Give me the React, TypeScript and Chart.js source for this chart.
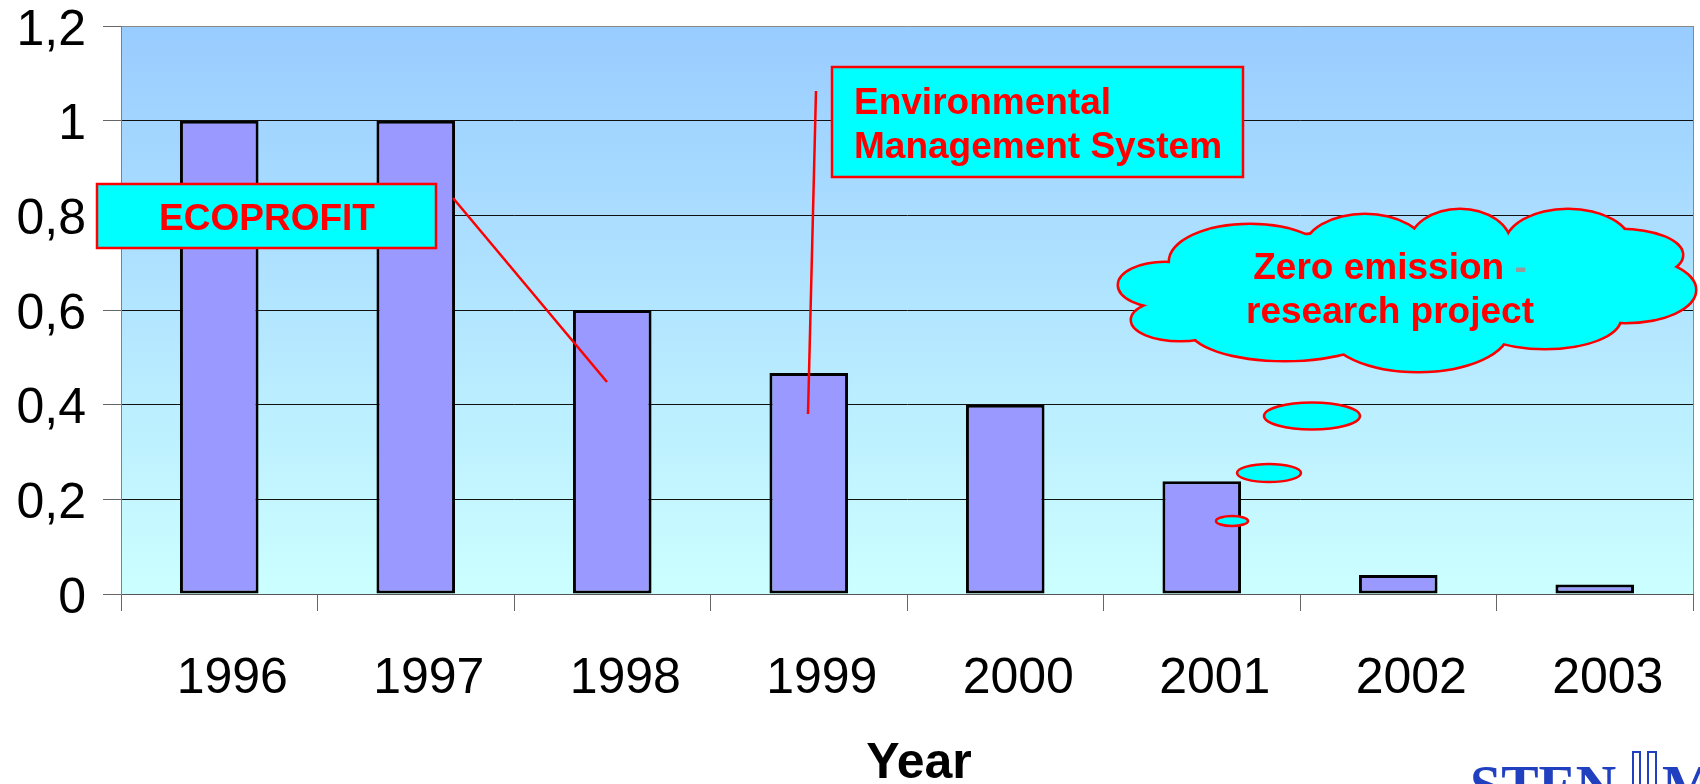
import React, { useEffect, useRef } from 'react';
import { Chart, registerables } from 'chart.js';

Chart.register(...registerables);

// ---- data ----
const years: string[] = ['1996', '1997', '1998', '1999', '2000', '2001', '2002', '2003'];
const values: number[] = [1, 1, 0.6, 0.467, 0.4, 0.238, 0.04, 0.02];
const yTickLabels: string[] = ['0', '0,2', '0,4', '0,6', '0,8', '1', '1,2'];
const xAxisTitle = 'Year';
const ecoLabel = 'ECOPROFIT';
const emsLines: string[] = ['Environmental', 'Management System'];
const cloudLine1 = 'Zero emission';
const cloudDash = ' -';
const cloudLine2 = 'research project';
const logoText = 'STEN';

const FONT = '"Liberation Sans", Arial, Helvetica, sans-serif';
const RED = '#FF0000';
const CYAN = '#00FFFF';

type Ell = [number, number, number, number];
const cloudLobes: Ell[] = [
  [1165, 285, 46, 22],
  [1180, 320, 48, 20],
  [1285, 328, 95, 32],
  [1250, 262, 80, 37],
  [1365, 250, 60, 35],
  [1460, 245, 50, 35],
  [1568, 245, 62, 35],
  [1620, 255, 62, 25],
  [1625, 290, 70, 32],
  [1545, 318, 75, 30],
  [1418, 330, 90, 41],
  [1400, 285, 220, 55],
];
const bubbles: Ell[] = [
  [1312, 416, 48, 13.5],
  [1269, 473, 32, 9],
  [1232, 521, 16, 5],
];

const bgPlugin = {
  id: 'bgGradient',
  beforeDraw(chart: any) {
    const { ctx, chartArea } = chart;
    if (!chartArea) return;
    const g = ctx.createLinearGradient(0, chartArea.top, 0, chartArea.bottom);
    g.addColorStop(0, '#99CCFF');
    g.addColorStop(1, '#CCFFFF');
    ctx.save();
    ctx.fillStyle = g;
    ctx.fillRect(chartArea.left, chartArea.top, chartArea.right - chartArea.left, chartArea.bottom - chartArea.top);
    ctx.restore();
  },
};

function ellipsePath(ctx: CanvasRenderingContext2D, e: Ell) {
  ctx.beginPath();
  ctx.ellipse(e[0], e[1], e[2], e[3], 0, 0, Math.PI * 2);
}

const annotPlugin = {
  id: 'annotations',
  afterDraw(chart: any) {
    const ctx: CanvasRenderingContext2D = chart.ctx;
    const { chartArea } = chart;
    ctx.save();

    // right border of plot
    ctx.strokeStyle = '#888';
    ctx.lineWidth = 1;
    ctx.beginPath();
    ctx.moveTo(chartArea.right + 0.5, chartArea.top);
    ctx.lineTo(chartArea.right + 0.5, chartArea.bottom);
    ctx.stroke();

    // ECOPROFIT box
    ctx.fillStyle = CYAN;
    ctx.fillRect(97, 184, 339, 64);
    ctx.strokeStyle = RED;
    ctx.lineWidth = 2.5;
    ctx.strokeRect(97, 184, 339, 64);
    ctx.fillStyle = RED;
    ctx.font = `bold 37px ${FONT}`;
    ctx.textAlign = 'center';
    ctx.textBaseline = 'alphabetic';
    ctx.fillText(ecoLabel, 267, 230);

    // ECOPROFIT pointer
    ctx.strokeStyle = RED;
    ctx.lineWidth = 2.5;
    ctx.beginPath();
    ctx.moveTo(453, 198);
    ctx.lineTo(607, 382);
    ctx.stroke();

    // EMS box
    ctx.fillStyle = CYAN;
    ctx.fillRect(832, 67, 411, 110);
    ctx.strokeRect(832, 67, 411, 110);
    ctx.fillStyle = RED;
    ctx.font = `bold 37px ${FONT}`;
    ctx.textAlign = 'left';
    ctx.fillText(emsLines[0], 854, 114);
    ctx.fillText(emsLines[1], 854, 158);

    // EMS pointer
    ctx.beginPath();
    ctx.moveTo(816, 91);
    ctx.lineTo(808, 414);
    ctx.stroke();

    // cloud
    ctx.strokeStyle = RED;
    ctx.lineWidth = 5;
    cloudLobes.forEach((e) => { ellipsePath(ctx, e); ctx.stroke(); });
    ctx.fillStyle = CYAN;
    cloudLobes.forEach((e) => { ellipsePath(ctx, e); ctx.fill(); });

    // bubbles
    ctx.lineWidth = 2.5;
    bubbles.forEach((e) => {
      ellipsePath(ctx, e);
      ctx.fillStyle = CYAN;
      ctx.fill();
      ctx.stroke();
    });

    // cloud text
    ctx.font = `bold 37px ${FONT}`;
    ctx.textAlign = 'left';
    const w1 = ctx.measureText(cloudLine1).width;
    const wd = ctx.measureText(cloudDash).width;
    const cx = 1390;
    const x1 = cx - (w1 + wd) / 2;
    ctx.fillStyle = RED;
    ctx.fillText(cloudLine1, x1, 279);
    ctx.fillStyle = '#999999';
    ctx.fillText(cloudDash, x1 + w1, 279);
    ctx.fillStyle = RED;
    ctx.textAlign = 'center';
    ctx.fillText(cloudLine2, cx, 323);

    // axis title
    ctx.fillStyle = '#000';
    ctx.font = `bold 50px ${FONT}`;
    ctx.textAlign = 'center';
    ctx.fillText(xAxisTitle, 919, 778);

    // logo (partly cut off)
    ctx.fillStyle = '#2040C0';
    ctx.strokeStyle = '#2040C0';
    ctx.font = 'bold 56px "Liberation Serif", "Times New Roman", serif';
    ctx.textAlign = 'left';
    ctx.fillText(logoText, 1470, 805);
    ctx.lineWidth = 2;
    ctx.strokeRect(1633, 752, 7, 40);
    ctx.strokeRect(1648, 752, 8, 40);
    ctx.fillText('M', 1662, 805);

    ctx.restore();
  },
};

export default function App() {
  const ref = useRef<HTMLCanvasElement | null>(null);

  useEffect(() => {
    if (!ref.current) return;
    const chart = new Chart(ref.current, {
      type: 'bar',
      data: {
        labels: years,
        datasets: [
          {
            data: values,
            backgroundColor: '#9999FF',
            borderColor: '#000000',
            borderWidth: 3,
            borderSkipped: false,
            barPercentage: 0.4,
            categoryPercentage: 1,
          },
        ],
      },
      options: {
        animation: false,
        responsive: false,
        devicePixelRatio: 1,
        layout: { padding: { top: 26, right: 7, left: 0, bottom: 0 } },
        plugins: {
          legend: { display: false },
          tooltip: { enabled: false },
          title: { display: false },
        },
        scales: {
          x: {
            grid: {
              drawOnChartArea: false,
              drawTicks: true,
              tickLength: 17,
              color: '#666',
              offset: true,
            },
            border: { display: true, color: '#555', width: 1 },
            ticks: {
              font: { family: FONT, size: 50, lineHeight: 1 },
              color: '#000',
              padding: 43,
              labelOffset: 13,
              maxRotation: 0,
              autoSkip: false,
            },
            afterFit: (s: any) => { s.height = 190; },
          },
          y: {
            min: 0,
            max: 1.2,
            grid: {
              color: (c: any) => (c.tick && c.tick.value > 1.19 ? '#888' : '#111'),
              tickColor: '#666',
              tickLength: 18,
              drawTicks: true,
              lineWidth: 1,
            },
            border: { display: true, color: '#808080', width: 1 },
            ticks: {
              stepSize: 0.2,
              callback: (_v: any, i: number) => yTickLabels[i],
              font: { family: FONT, size: 50, lineHeight: 0.3 },
              color: '#000',
              padding: 17,
              labelOffset: 5,
            },
            afterFit: (s: any) => { s.width = 121; },
          },
        },
      },
      plugins: [bgPlugin, annotPlugin],
    } as any);
    return () => chart.destroy();
  }, []);

  return (
    <div style={{ position: 'fixed', left: 0, top: 0, width: 1700, height: 784, background: '#fff' }}>
      <canvas ref={ref} width={1700} height={784} style={{ display: 'block' }} />
    </div>
  );
}
